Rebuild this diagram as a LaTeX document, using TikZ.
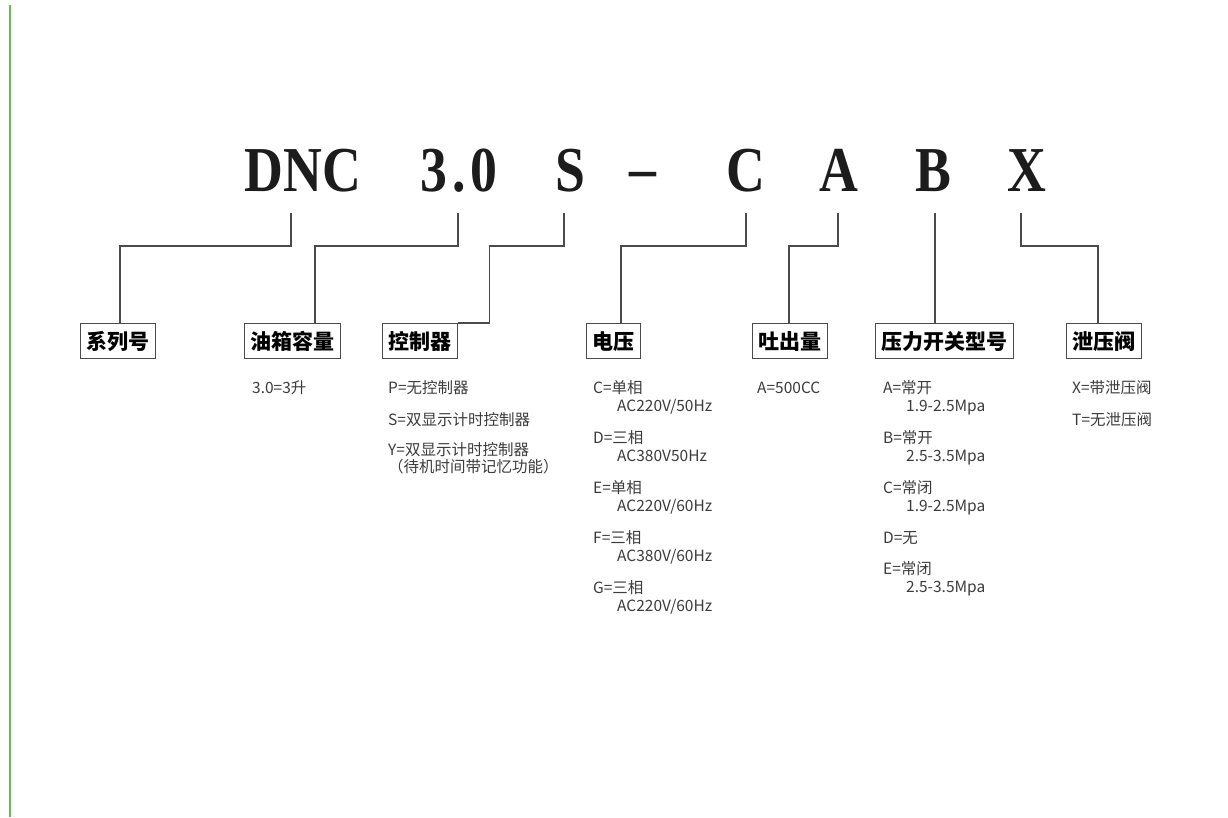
\documentclass[tikz,border=0pt]{standalone}
\usepackage{fontspec}
\usepackage{tikz}
\newfontfamily\cjk{Noto Sans CJK SC}
\newfontfamily\codefont[FakeStretch=0.84]{Liberation Serif}
\definecolor{leadgray}{RGB}{75, 75, 75}
\definecolor{notegray}{RGB}{60, 60, 60}
\definecolor{codeblack}{RGB}{28, 28, 28}
\definecolor{edgegreen}{RGB}{110, 185, 80}

\tikzset{
	code/.style={font=\codefont\bfseries\fontsize{64}{64}\selectfont, text=codeblack, anchor=base, inner sep=0pt},
	partbox/.style={draw=leadgray, line width=1.3pt, anchor=north west, minimum height=35pt, inner xsep=6pt, inner ysep=0pt, font=\cjk\bfseries\fontsize{21}{21}\selectfont},
	note/.style={anchor=base west, inner sep=0pt, text=notegray, font=\cjk\fontsize{15.5}{18}\selectfont},
	lead/.style={draw=leadgray, line width=1.2pt}
}

\begin{document}
\begin{tikzpicture}[x=1pt, y=-1pt]
					\fill[white] (0,0) rectangle (1228,817);
					\useasboundingbox (0,0) rectangle (1228,817);
					\draw[edgegreen, line width=1.5pt] (10,5) -- (10,817);
					% model code
					\node[code] (dnc) at (303,191) {DNC};
					\node[code] (cap) at (459,191) {3\kern5pt.\kern5pt0};
					\node[code] (ctl) at (570,191) {S};
					\node[code] (dash) at (643,189) {–};
					\node[code] (vlt) at (746,191) {C};
					\node[code] (flow) at (839,191) {A};
					\node[code] (sw) at (933,191) {B};
					\node[code] (rel) at (1027,191) {X};
					\coordinate (t1) at (291,213);
					\coordinate (t2) at (458,213);
					\coordinate (t3) at (564,213);
					\coordinate (t5) at (746,213);
					\coordinate (t6) at (838,213);
					\coordinate (t7) at (935,213);
					\coordinate (t8) at (1021,213);
					% part boxes
					\node[partbox] (series) at (80,323) {系列号};
					\node[partbox] (tank) at (244,323) {油箱容量};
					\node[partbox] (ctrl) at (382,323) {控制器};
					\node[partbox] (volt) at (586,323) {电压};
					\node[partbox] (out) at (752,323) {吐出量};
					\node[partbox] (press) at (875,323) {压力开关型号};
					\node[partbox] (relief) at (1066,323) {泄压阀};
					% leaders
					\draw[lead] (t1) -- ++(0,33) -| ([xshift=40pt]series.north west);
					\draw[lead] (t2) -- ++(0,33) -| ([xshift=71pt]tank.north west);
					\draw[lead] (t3) -- ++(0,33) -| ([xshift=31pt]ctrl.north east) -- (ctrl.north east);
					\draw[lead] (t5) -- ++(0,33) -| ([xshift=35pt]volt.north west);
					\draw[lead] (t6) -- ++(0,33) -| ([xshift=37pt]out.north west);
					\draw[lead] (t7) -- (t7 |- press.north);
					\draw[lead] (t8) -- ++(0,33) -| ([xshift=32pt]relief.north west);
					% options
					\node[note] (tank1) at (252,393) {3.0=3升};
					\node[note] (ctrlP) at (388,393) {P=无控制器};
					\node[note] (ctrlS) at (388,425) {S=双显示计时控制器};
					\node[note] (ctrlY) at (388,455) {Y=双显示计时控制器};
					\node[note] (ctrlYb) at (388,472) {（待机时间带记忆功能）};
					\foreach \k/\p/\v [count=\i from 0] in {C/单相/{AC220V/50Hz}, D/三相/AC380V50Hz, E/单相/{AC220V/60Hz}, F/三相/{AC380V/60Hz}, G/三相/{AC220V/60Hz}} {
						\node[note] (volt\k) at (593,393+50*\i) {\k=\p};
						\node[note] (volt\k v) at (617,411+50*\i) {\v};
					}
					\node[note] (out1) at (757,393) {A=500CC};
					\foreach \k/\p/\v [count=\i from 0] in {A/常开/1.9-2.5Mpa, B/常开/2.5-3.5Mpa, C/常闭/1.9-2.5Mpa} {
						\node[note] (press\k) at (883,393+50*\i) {\k=\p};
						\node[note] (press\k v) at (906,411+50*\i) {\v};
					}
					\node[note] (pressD) at (883,543) {D=无};
					\node[note] (pressE) at (883,574) {E=常闭};
					\node[note] (pressEv) at (906,592) {2.5-3.5Mpa};
					\node[note] (reliefX) at (1072,393) {X=带泄压阀};
					\node[note] (reliefT) at (1072,425) {T=无泄压阀};
				\end{tikzpicture}
\end{document}
